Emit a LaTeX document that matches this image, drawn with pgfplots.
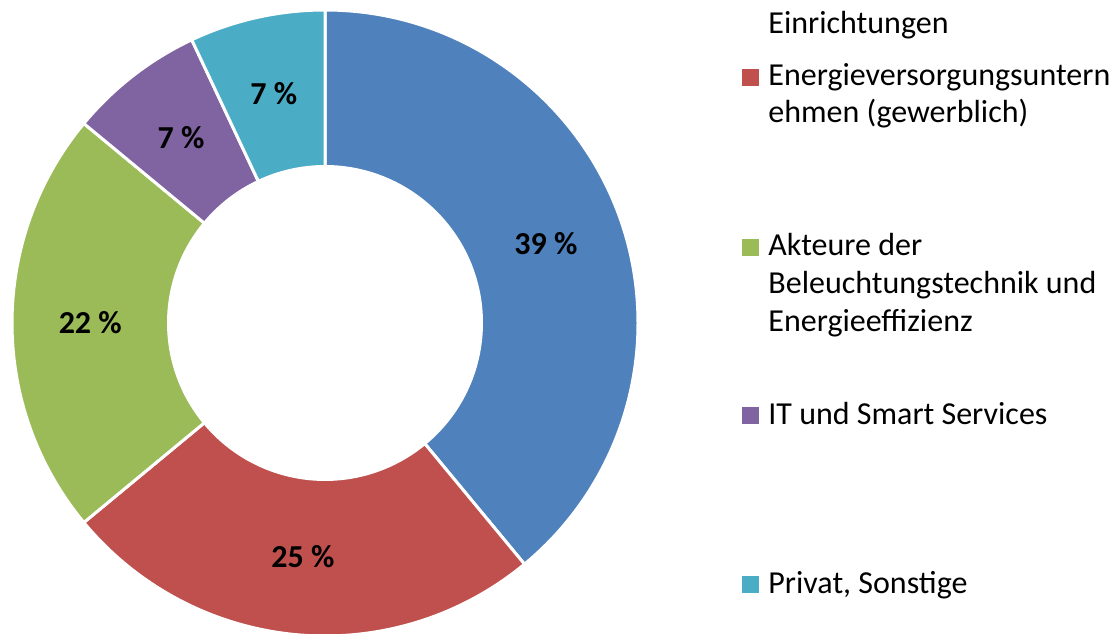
\documentclass[border=0pt]{standalone}
\usepackage{fontspec}
\setmainfont{Carlito}
\usepackage{pgfplots}
\usepackage{pgfplotstable}
\pgfplotsset{compat=1.18}

\definecolor{segblue}{HTML}{4F81BD}
\definecolor{segred}{HTML}{C0504D}
\definecolor{seggreen}{HTML}{9BBB59}
\definecolor{segpurple}{HTML}{8064A2}
\definecolor{segteal}{HTML}{4BACC6}

\newcommand{\labfont}{\bfseries\fontsize{16}{19}\selectfont}
\newcommand{\legfont}{\fontsize{16}{19}\selectfont}

% shares in percent, clockwise from 12 o'clock
\pgfplotstableread{
share col
39 segblue
25 segred
22 seggreen
7  segpurple
7  segteal
}\donut

% legend square + text, y = baseline (pt)
\newcommand{\legitem}[3]{%
  \fill[#1] (371pt,#2pt) rectangle (379.5pt,#2pt+8.5pt);
  \node[anchor=base west, inner sep=0pt, font=\legfont] at (384pt,#2pt) {#3};
}
\newcommand{\legline}[2]{%
  \node[anchor=base west, inner sep=0pt, font=\legfont] at (384pt,#1pt) {#2};
}

\begin{document}
\begin{tikzpicture}
\path[use as bounding box] (0,0) rectangle (560pt,316.5pt);
\clip (0,0) rectangle (560pt,316.5pt);

\begin{axis}[
    at={(162.5pt,155pt)}, anchor=center,
    width=313pt, height=313pt, scale only axis,
    hide axis, clip=false,
    xmin=-1, xmax=1, ymin=-1, ymax=1,
]
\pgfplotstablegetrowsof{\donut}
\pgfmathtruncatemacro\nrows{\pgfplotsretval-1}
\def\cum{0}
\pgfplotsforeachungrouped \i in {0,...,\nrows}{%
  \pgfplotstablegetelem{\i}{share}\of\donut \let\val\pgfplotsretval
  \pgfplotstablegetelem{\i}{col}\of\donut \let\col\pgfplotsretval
  \pgfmathsetmacro\aS{90-3.6*\cum}
  \pgfmathsetmacro\aE{90-3.6*(\cum+\val)}
  \pgfmathsetmacro\aM{(\aS+\aE)/2}
  \pgfmathsetmacro\cum{\cum+\val}
  \edef\temp{%
    \noexpand\fill[\col, draw=white, line width=1.5pt]
      (axis cs:{cos(\aS)},{sin(\aS)})
      arc[start angle=\aS, end angle=\aE, radius=156.5pt]
      -- (axis cs:{0.5*cos(\aE)},{0.5*sin(\aE)})
      arc[start angle=\aE, end angle=\aS, radius=78.25pt] -- cycle;
    \noexpand\node[font=\noexpand\labfont]
      at (axis cs:{0.75*cos(\aM)},{0.75*sin(\aM)}) {\val\noexpand~\noexpand\%};
  }
  \temp
}
\end{axis}

\legline{299.5}{Einrichtungen}
\legitem{segred}{273.5}{Energieversorgungsuntern}
\legline{255}{ehmen (gewerblich)}
\legitem{seggreen}{188.5}{Akteure der}
\legline{169.5}{Beleuchtungstechnik und}
\legline{150.5}{Energieeffizienz}
\legitem{segpurple}{104.5}{IT und Smart Services}
\legitem{segteal}{20}{Privat, Sonstige}
\end{tikzpicture}
\end{document}
